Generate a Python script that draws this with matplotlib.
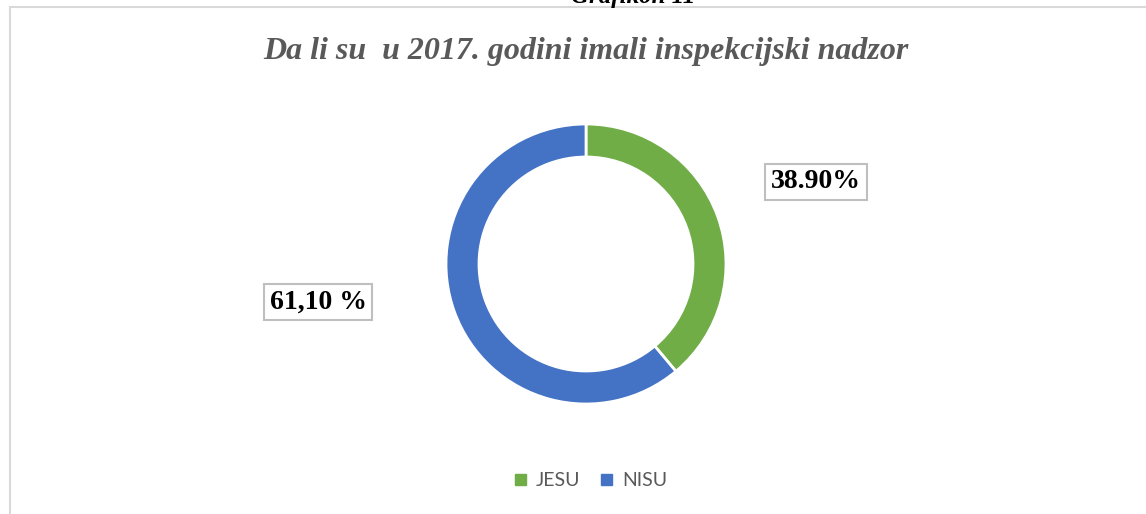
import matplotlib
matplotlib.use("Agg")
import matplotlib.pyplot as plt
from matplotlib.patches import Rectangle

# data
categories = ["JESU", "NISU"]
shares = [38.9, 61.1]
value_labels = ["38.90%", "61,10 %"]
colors = ["#70AD47", "#4472C4"]

W, H = 1146, 514
fig = plt.figure(figsize=(W / 100, H / 100), dpi=100)
ax = fig.add_axes([0, 0, 1, 1])
ax.set_xlim(0, W)
ax.set_ylim(0, H)
ax.set_aspect("equal")
ax.axis("off")

# chart frame
ax.add_patch(Rectangle((10, -20), W + 20, H - 7 + 20, fill=False,
                       edgecolor="#D9D9D9", linewidth=1.5))

# caption above (cut off in the original too)
ax.text(633, H - 3, "Grafikon 11", ha="center", va="baseline",
        family="Liberation Serif", weight="bold", style="italic", fontsize=18)

ax.text(586, H - 51, "Da li su  u 2017. godini imali inspekcijski nadzor",
        ha="center", va="center", family="Liberation Serif", weight="bold",
        style="italic", fontsize=23, color="#595959")

wedges, _ = ax.pie(shares, colors=colors, startangle=90, counterclock=False,
                   center=(586, H - 264), radius=140, frame=True,
                   wedgeprops=dict(width=33, edgecolor="white", linewidth=2))
ax.set_xlim(0, W)
ax.set_ylim(0, H)
ax.axis("off")

label_pos = [(816, H - 182), (318, H - 302)]
for (x, y), txt in zip(label_pos, value_labels):
    ax.text(x, y, txt, ha="center", va="center", family="Liberation Serif",
            weight="bold", fontsize=20, color="black",
            bbox=dict(boxstyle="square,pad=0.2", facecolor="white",
                      edgecolor="#BFBFBF", linewidth=1.5))

handles = [Rectangle((0, 0), 1, 1, color=c) for c in colors]
leg = ax.legend(handles, categories, loc="center", bbox_to_anchor=(591 / W, 1 - 481 / H),
                ncol=2, frameon=False, handlelength=0.55, handleheight=0.55,
                handletextpad=0.5, columnspacing=1.1,
                prop={"family": "Lato", "size": 14})
for t in leg.get_texts():
    t.set_color("#595959")

fig.savefig("out.png", dpi=100)
